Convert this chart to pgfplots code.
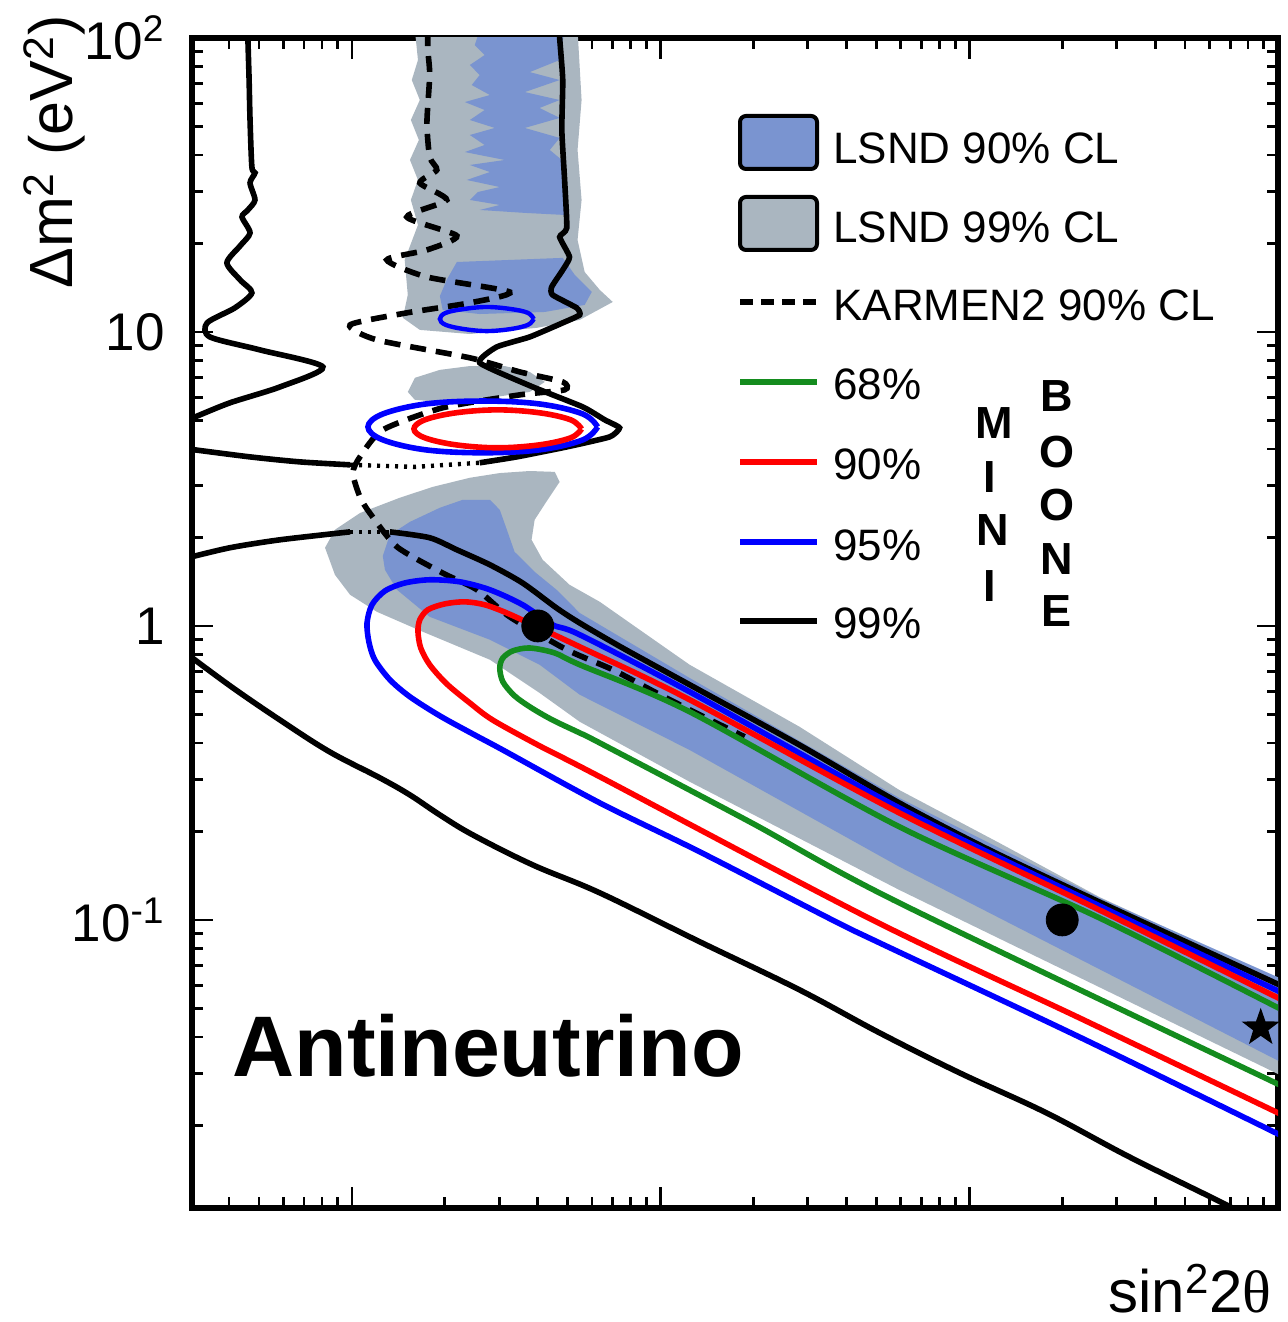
\documentclass[border=0pt]{standalone}
\usepackage{fontspec}
\setmainfont{Liberation Sans}
\newfontfamily\seriffont{Liberation Serif}
\usepackage{pgfplots}
\pgfplotsset{compat=1.18}
\definecolor{lsndblue}{RGB}{122,148,208}
\definecolor{lsndgray}{RGB}{170,182,192}
\definecolor{mbgreen}{RGB}{20,140,30}
\definecolor{mbred}{RGB}{255,0,0}
\definecolor{mbblue}{RGB}{0,0,255}
\pgfdeclareplotmark{fstar}{%
 \pgfpathmoveto{\pgfpointpolar{90}{\pgfplotmarksize}}%
 \pgfpathlineto{\pgfpointpolar{126}{0.40\pgfplotmarksize}}%
 \pgfpathlineto{\pgfpointpolar{162}{\pgfplotmarksize}}%
 \pgfpathlineto{\pgfpointpolar{198}{0.40\pgfplotmarksize}}%
 \pgfpathlineto{\pgfpointpolar{234}{\pgfplotmarksize}}%
 \pgfpathlineto{\pgfpointpolar{270}{0.40\pgfplotmarksize}}%
 \pgfpathlineto{\pgfpointpolar{306}{\pgfplotmarksize}}%
 \pgfpathlineto{\pgfpointpolar{342}{0.40\pgfplotmarksize}}%
 \pgfpathlineto{\pgfpointpolar{18}{\pgfplotmarksize}}%
 \pgfpathlineto{\pgfpointpolar{54}{0.40\pgfplotmarksize}}%
 \pgfpathclose
 \pgfusepathqfill}
\begin{document}
\begin{tikzpicture}
\path[use as bounding box] (0,0) rectangle (644pt,661pt);
\begin{axis}[
 at={(96pt,57pt)}, anchor=south west, scale only axis,
 width=543pt, height=585pt,
 xmin=-3.518, xmax=0, ymin=-1.98, ymax=2,
 axis line style={line width=2.6pt},
 every tick/.style={black, line width=1.4pt},
 tick align=inside, major tick length=10.5pt, minor tick length=5.5pt,
 xtick={-3,-2,-1,0}, xticklabels={},
 minor xtick={-3.398,-3.301,-3.222,-3.155,-3.097,-3.046,-2.699,-2.523,-2.398,-2.301,-2.222,-2.155,-2.097,-2.046,-1.699,-1.523,-1.398,-1.301,-1.222,-1.155,-1.097,-1.046,-0.699,-0.523,-0.398,-0.301,-0.222,-0.155,-0.097,-0.046},
 ytick={-1,0,1,2},
 yticklabels={10\textsuperscript{-1},1,10,10\textsuperscript{2}},
 minor ytick={-1.699,-1.523,-1.398,-1.301,-1.222,-1.155,-1.097,-1.046,-0.699,-0.523,-0.398,-0.301,-0.222,-0.155,-0.097,-0.046,0.301,0.477,0.602,0.699,0.778,0.845,0.903,0.954,1.301,1.477,1.602,1.699,1.778,1.845,1.903,1.954},
 yticklabel style={font=\fontsize{26.5}{26.5}\selectfont, inner sep=0pt, anchor=east, xshift=-13.5pt},
]
% ---------------- LSND 99% (gray) ----------------
\addplot[fill=lsndgray, draw=none] coordinates {(-2.796,2.027)(-2.786,1.925)(-2.806,1.857)(-2.780,1.789)(-2.809,1.721)(-2.783,1.653)(-2.812,1.585)(-2.786,1.517)(-2.809,1.449)(-2.786,1.364)(-2.829,1.245)(-2.819,1.126)(-2.835,1.048)(-2.780,1.007)(-2.618,0.993)(-2.401,1.014)(-2.262,1.041)(-2.155,1.102)(-2.197,1.143)(-2.246,1.204)(-2.269,1.313)(-2.256,1.449)(-2.269,1.619)(-2.256,1.789)(-2.269,2.027)} -- cycle;
\addplot[fill=lsndgray, draw=none] coordinates {(-2.819,0.796)(-2.796,0.844)(-2.715,0.871)(-2.618,0.884)(-2.505,0.884)(-2.424,0.864)(-2.375,0.830)(-2.424,0.796)(-2.553,0.776)(-2.715,0.762)(-2.796,0.769)} -- cycle;
\addplot[fill=lsndgray, draw=none] coordinates {(-3.087,0.266)(-3.055,0.327)(-2.974,0.384)(-2.845,0.436)(-2.738,0.473)(-2.618,0.504)(-2.521,0.520)(-2.424,0.527)(-2.343,0.524)(-2.327,0.490)(-2.366,0.429)(-2.408,0.361)(-2.418,0.293)(-2.382,0.225)(-2.295,0.140)(-2.197,0.082)(-2.068,-0.013)(-1.906,-0.132)(-1.550,-0.343)(-1.227,-0.558)(-0.903,-0.738)(-0.579,-0.922)(-0.256,-1.078)(0.019,-1.211)(0.019,-1.534)(-1.227,-0.898)(-1.906,-0.530)(-2.262,-0.326)(-2.392,-0.228)(-2.553,-0.115)(-2.770,-0.020)(-2.919,0.048)(-3.006,0.106)(-3.055,0.174)} -- cycle;
% ---------------- LSND 90% (blue) ----------------
\addplot[fill=lsndblue, draw=none] coordinates {(-2.311,2.027)(-2.327,1.925)(-2.424,1.884)(-2.327,1.857)(-2.440,1.816)(-2.327,1.789)(-2.392,1.762)(-2.327,1.728)(-2.440,1.694)(-2.327,1.660)(-2.359,1.619)(-2.320,1.585)(-2.311,1.398)(-2.440,1.405)(-2.586,1.415)(-2.521,1.432)(-2.618,1.449)(-2.592,1.476)(-2.521,1.493)(-2.628,1.517)(-2.553,1.544)(-2.618,1.568)(-2.505,1.585)(-2.634,1.612)(-2.570,1.636)(-2.618,1.670)(-2.537,1.694)(-2.618,1.721)(-2.570,1.755)(-2.634,1.782)(-2.553,1.806)(-2.612,1.840)(-2.586,1.874)(-2.618,1.908)(-2.570,1.942)(-2.602,1.976)(-2.586,2.027)} -- cycle;
\addplot[fill=lsndblue, draw=none] coordinates {(-2.660,1.238)(-2.317,1.252)(-2.278,1.194)(-2.223,1.136)(-2.246,1.092)(-2.375,1.068)(-2.586,1.061)(-2.706,1.075)(-2.715,1.122)(-2.693,1.177)} -- cycle;
\addplot[fill=lsndblue, draw=none] coordinates {(-2.900,0.238)(-2.877,0.310)(-2.812,0.354)(-2.715,0.402)(-2.641,0.429)(-2.553,0.429)(-2.521,0.395)(-2.498,0.327)(-2.473,0.252)(-2.408,0.184)(-2.337,0.123)(-2.262,0.044)(-1.906,-0.177)(-1.227,-0.585)(-0.579,-0.925)(0.019,-1.204)(0.019,-1.489)(-1.227,-0.819)(-1.906,-0.422)(-2.262,-0.234)(-2.392,-0.132)(-2.553,-0.047)(-2.748,0.031)(-2.854,0.123)(-2.893,0.191)} -- cycle;
% ---------------- MiniBooNE 99% (black) ----------------
\addplot[black, line width=2.8pt, smooth, tension=0.45] coordinates {(-3.337,2.03)(-3.337,2.000)(-3.333,1.857)(-3.330,1.721)(-3.324,1.561)(-3.314,1.541)(-3.330,1.507)(-3.314,1.449)(-3.337,1.415)(-3.356,1.391)(-3.330,1.337)(-3.362,1.293)(-3.405,1.235)(-3.362,1.177)(-3.324,1.133)(-3.379,1.082)(-3.469,1.031)(-3.460,0.983)(-3.298,0.939)(-3.094,0.881)(-3.233,0.813)(-3.395,0.759)(-3.508,0.711)(-3.531,0.701)};
\addplot[black, line width=2.8pt, smooth, tension=0.45] coordinates {(-3.531,0.602)(-3.330,0.575)(-3.168,0.558)(-3.006,0.548)};
\addplot[black, line width=2.2pt, dash pattern=on 1.5pt off 3pt] coordinates {(-3.006,0.548)(-2.796,0.541)(-2.586,0.555)};
\addplot[black, line width=2.8pt, smooth, tension=0.3] coordinates {(-2.586,0.555)(-2.466,0.575)(-2.304,0.609)(-2.165,0.643)(-2.133,0.674)(-2.181,0.701)(-2.252,0.745)(-2.414,0.813)(-2.586,0.895)(-2.531,0.949)(-2.424,0.983)(-2.317,1.031)(-2.262,1.058)(-2.272,1.082)(-2.350,1.126)(-2.353,1.153)(-2.317,1.211)(-2.295,1.255)(-2.327,1.323)(-2.304,1.354)(-2.311,1.517)(-2.320,1.687)(-2.317,1.857)(-2.327,2.000)(-2.327,2.03)};
\addplot[black, line width=2.8pt, smooth, tension=0.45] coordinates {(-3.531,0.232)(-3.395,0.266)(-3.233,0.293)(-3.006,0.320)};
\addplot[black, line width=2.2pt, dash pattern=on 1.5pt off 3pt] coordinates {(-3.006,0.320)(-2.877,0.320)};
\addplot[black, line width=2.8pt, smooth, tension=0.45] coordinates {(-2.877,0.320)(-2.748,0.300)(-2.660,0.259)(-2.553,0.208)(-2.447,0.146)(-2.337,0.061)(-2.262,0.010)(-2.123,-0.075)(-1.906,-0.200)(-1.550,-0.405)(-1.227,-0.602)(-0.935,-0.762)(-0.579,-0.939)(-0.256,-1.095)(0.019,-1.228)};
\addplot[black, line width=2.8pt, smooth, tension=0.6] coordinates {(-3.531,-0.098)(-3.385,-0.211)(-3.223,-0.327)(-3.071,-0.429)(-2.909,-0.517)(-2.812,-0.575)(-2.715,-0.643)(-2.608,-0.711)(-2.414,-0.813)(-2.197,-0.908)(-1.874,-1.074)(-1.550,-1.238)(-1.291,-1.384)(-1.032,-1.520)(-0.751,-1.656)(-0.482,-1.806)(-0.181,-1.962)(-0.110,-2.003)};
% ---------------- KARMEN2 90% (dashed) ----------------
\addplot[black, line width=2.8pt, dash pattern=on 8pt off 5pt, smooth, tension=0.4] coordinates {(-2.754,2.027)(-2.754,1.959)(-2.748,1.874)(-2.757,1.711)(-2.748,1.595)(-2.725,1.551)(-2.780,1.507)(-2.693,1.449)(-2.822,1.391)(-2.660,1.327)(-2.757,1.279)(-2.887,1.245)(-2.757,1.187)(-2.489,1.136)(-2.618,1.099)(-2.822,1.065)(-3.006,1.024)(-2.919,0.973)(-2.618,0.912)(-2.456,0.864)(-2.317,0.830)(-2.311,0.803)(-2.456,0.786)(-2.706,0.742)(-2.900,0.667)(-2.974,0.575)(-2.997,0.520)(-2.974,0.439)(-2.942,0.384)(-2.854,0.269)(-2.706,0.180)(-2.595,0.123)(-2.489,0.031)(-2.304,-0.081)(-2.155,-0.149)(-2.013,-0.228)(-1.874,-0.302)(-1.728,-0.377)};
% ---------------- MiniBooNE 95% (blue) ----------------
\addplot[mbblue, line width=2.8pt, smooth, tension=0.5] coordinates {(0.019,-1.251)(-0.579,-0.952)(-1.227,-0.619)(-1.906,-0.224)(-2.262,-0.030)(-2.350,0.004)(-2.447,0.072)(-2.553,0.123)(-2.650,0.150)(-2.748,0.157)(-2.829,0.146)(-2.893,0.119)(-2.935,0.072)(-2.951,0.010)(-2.945,-0.054)(-2.926,-0.115)(-2.877,-0.183)(-2.812,-0.241)(-2.715,-0.306)(-2.602,-0.371)(-2.511,-0.422)(-2.197,-0.602)(-1.874,-0.768)(-1.444,-1.000)(-1.291,-1.078)(-0.644,-1.398)(0.019,-1.738)};
\addplot[mbblue, line width=2.8pt, smooth, tension=0.6] coordinates {(-2.204,0.677)(-2.252,0.721)(-2.392,0.755)(-2.576,0.765)(-2.761,0.755)(-2.900,0.721)(-2.948,0.677)(-2.900,0.633)(-2.761,0.599)(-2.576,0.589)(-2.392,0.599)(-2.252,0.633)(-2.204,0.677)};
\addplot[mbblue, line width=2.2pt, smooth, tension=0.6] coordinates {(-2.411,1.044)(-2.430,1.065)(-2.485,1.078)(-2.563,1.085)(-2.638,1.078)(-2.696,1.065)(-2.715,1.044)(-2.696,1.024)(-2.638,1.010)(-2.563,1.003)(-2.485,1.010)(-2.430,1.024)(-2.411,1.044)};
% ---------------- MiniBooNE 90% (red) ----------------
\addplot[mbred, line width=2.8pt, smooth, tension=0.5] coordinates {(0.019,-1.275)(-0.579,-0.966)(-1.227,-0.636)(-1.906,-0.251)(-2.262,-0.071)(-2.401,-0.003)(-2.498,0.044)(-2.570,0.072)(-2.634,0.082)(-2.699,0.075)(-2.754,0.055)(-2.780,0.021)(-2.786,-0.020)(-2.777,-0.075)(-2.748,-0.132)(-2.693,-0.197)(-2.618,-0.262)(-2.544,-0.320)(-2.392,-0.408)(-2.197,-0.513)(-1.314,-1.000)(-0.644,-1.333)(0.019,-1.666)};
\addplot[mbred, line width=2.8pt, smooth, tension=0.6] coordinates {(-2.256,0.670)(-2.291,0.701)(-2.392,0.725)(-2.528,0.735)(-2.663,0.725)(-2.764,0.701)(-2.799,0.670)(-2.764,0.640)(-2.663,0.616)(-2.528,0.606)(-2.392,0.616)(-2.291,0.640)(-2.256,0.670)};
% ---------------- MiniBooNE 68% (green) ----------------
\addplot[mbgreen, line width=2.8pt, smooth, tension=0.5] coordinates {(0.019,-1.309)(-0.579,-0.993)(-1.227,-0.683)(-1.906,-0.292)(-2.262,-0.132)(-2.343,-0.092)(-2.424,-0.075)(-2.479,-0.085)(-2.511,-0.109)(-2.521,-0.143)(-2.511,-0.190)(-2.473,-0.238)(-2.418,-0.279)(-2.350,-0.320)(-2.262,-0.364)(-2.197,-0.398)(-1.712,-0.666)(-1.227,-0.942)(0.019,-1.568)};
% ---------------- points ----------------
\addplot[only marks, mark=*, mark size=8pt, black] coordinates {(-2.398,0)(-0.699,-1)};
\addplot[only marks, mark=fstar, mark size=10pt, black] coordinates {(-0.056,-1.367)};
\end{axis}
\begin{scope}[x=0.5pt, y=-0.5pt, yshift=661pt]
 \draw[line width=2pt, fill=lsndblue, rounded corners=3pt] (740,116) rectangle (817,169);
 \draw[line width=2pt, fill=lsndgray, rounded corners=3pt] (740,197) rectangle (817,250);
 \draw[line width=2.8pt, dash pattern=on 6.5pt off 4pt] (740,302) -- (817,302);
 \draw[line width=2.8pt, mbgreen] (740,382) -- (817,382);
 \draw[line width=2.8pt, mbred] (740,462) -- (817,462);
 \draw[line width=2.8pt, mbblue] (740,542) -- (817,542);
 \draw[line width=2.8pt, black] (740,621) -- (817,621);
 \begin{scope}[every node/.style={anchor=west, inner sep=0pt, font=\fontsize{22}{22}\selectfont}]
  \node at (833,148) {LSND 90\% CL};
  \node at (833,227) {LSND 99\% CL};
  \node at (833,305) {KARMEN2 90\% CL};
  \node at (833,384) {68\%};
  \node at (833,464) {90\%};
  \node at (833,545) {95\%};
  \node at (833,623) {99\%};
 \end{scope}
 \begin{scope}[every node/.style={inner sep=0pt, font=\bfseries\fontsize{22.5}{22.5}\selectfont}]
  \node at (994,423) {M};
  \node at (990,477) {I};
  \node at (993,530) {N};
  \node at (990,586) {I};
  \node at (1057,396) {B};
  \node at (1057,452) {O};
  \node at (1057,505) {O};
  \node at (1057,559) {N};
  \node at (1056,611) {E};
 \end{scope}
 \node[anchor=base west, inner sep=0pt, font=\bfseries\fontsize{43}{43}\selectfont] at (232,1077) {Antineutrino};
 \node[rotate=90, anchor=base, inner sep=0pt, font=\fontsize{30.5}{30.5}\selectfont] at (72,152) {Δm\textsuperscript{2} (eV\textsuperscript{2})};
 \node[anchor=base west, inner sep=0pt, font=\fontsize{30}{30}\selectfont] at (1108,1312) {sin\textsuperscript{2}2{\seriffont θ}};
\end{scope}
\end{tikzpicture}
\end{document}
